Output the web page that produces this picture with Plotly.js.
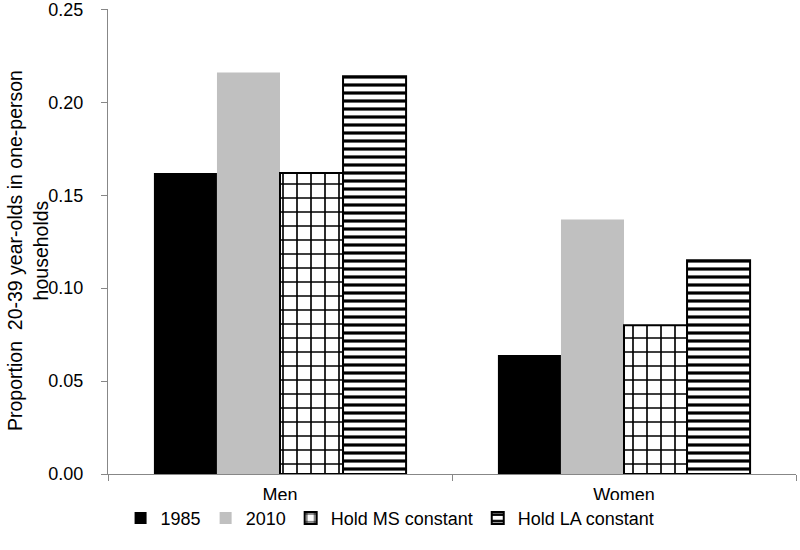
<!DOCTYPE html>
<html>
<head>
<meta charset="utf-8">
<script src="https://cdn.plot.ly/plotly-3.0.1.min.js"></script>
<style>
  html, body { margin: 0; padding: 0; background: #fff; }
  #chart { width: 800px; height: 550px; }
</style>
</head>
<body>
<div id="chart"></div>
<script>
// groups on the x axis
var groups = ["Men", "Women"];

// proportions, one array per series
var y1985 = [0.162, 0.064];
var y2010 = [0.216, 0.137];
var holdMS = [0.162, 0.080];
var holdLA = [0.214, 0.115];

var yTicks = [0, 0.05, 0.10, 0.15, 0.20, 0.25];
var yTickText = yTicks.map(v => v.toFixed(2));

var traces = [
  {
    x: groups, y: y1985, name: "1985", type: "bar",
    marker: { color: "#000000" }
  },
  {
    x: groups, y: y2010, name: "2010", type: "bar",
    marker: { color: "#c0c0c0" }
  },
  {
    x: groups, y: holdMS, name: "Hold MS constant", type: "bar",
    marker: {
      color: "#ffffff",
      line: { color: "#000000", width: 2 },
      pattern: { shape: "+", fillmode: "overlay", fgcolor: "#000000", fgopacity: 1, bgcolor: "#ffffff", size: 14, solidity: 0.22 }
    }
  },
  {
    x: groups, y: holdLA, name: "Hold LA constant", type: "bar",
    marker: {
      color: "#ffffff",
      line: { color: "#000000", width: 2 },
      pattern: { shape: "-", fillmode: "overlay", fgcolor: "#000000", fgopacity: 1, bgcolor: "#ffffff", size: 8, solidity: 0.4 }
    }
  }
];

var layout = {
  width: 800,
  height: 550,
  font: { family: "Liberation Sans, Arial, sans-serif", size: 18, color: "#000" },
  paper_bgcolor: "#fff",
  plot_bgcolor: "#fff",
  margin: { l: 108, r: 4, t: 9, b: 76 },
  barmode: "group",
  bargap: 0.267,
  bargroupgap: 0,
  showlegend: true,
  legend: {
    orientation: "h",
    x: 0.41, xanchor: "center",
    y: -0.095, yanchor: "middle",
    font: { size: 18 },
    traceorder: "normal"
  },
  xaxis: {
    showline: true, linecolor: "#878787", linewidth: 1,
    ticks: "outside", tickson: "boundaries", ticklen: 6, tickcolor: "#878787",
    showgrid: false, zeroline: false,
    ticklabelstandoff: 4,
    tickfont: { size: 18 }
  },
  yaxis: {
    range: [0, 0.2502],
    tickvals: yTicks, ticktext: yTickText,
    showline: true, linecolor: "#878787", linewidth: 1,
    ticks: "outside", ticklen: 6, tickcolor: "#878787",
    showgrid: false, zeroline: false,
    ticklabelstandoff: 14,
    ticklabeloverflow: "allow",
    tickfont: { size: 18 }
  },
  // y axis title as a rotated annotation so it can sit close to the tick labels
  annotations: [{
    text: "Proportion  20-39 year-olds in one-person<br>households",
    xref: "paper", yref: "paper",
    x: -0.116, y: 0.48,
    xanchor: "center", yanchor: "middle",
    textangle: -90,
    showarrow: false,
    font: { size: 19.5 }
  }]
};

Plotly.newPlot("chart", traces, layout, { displayModeBar: false, staticPlot: true });
</script>
</body>
</html>
